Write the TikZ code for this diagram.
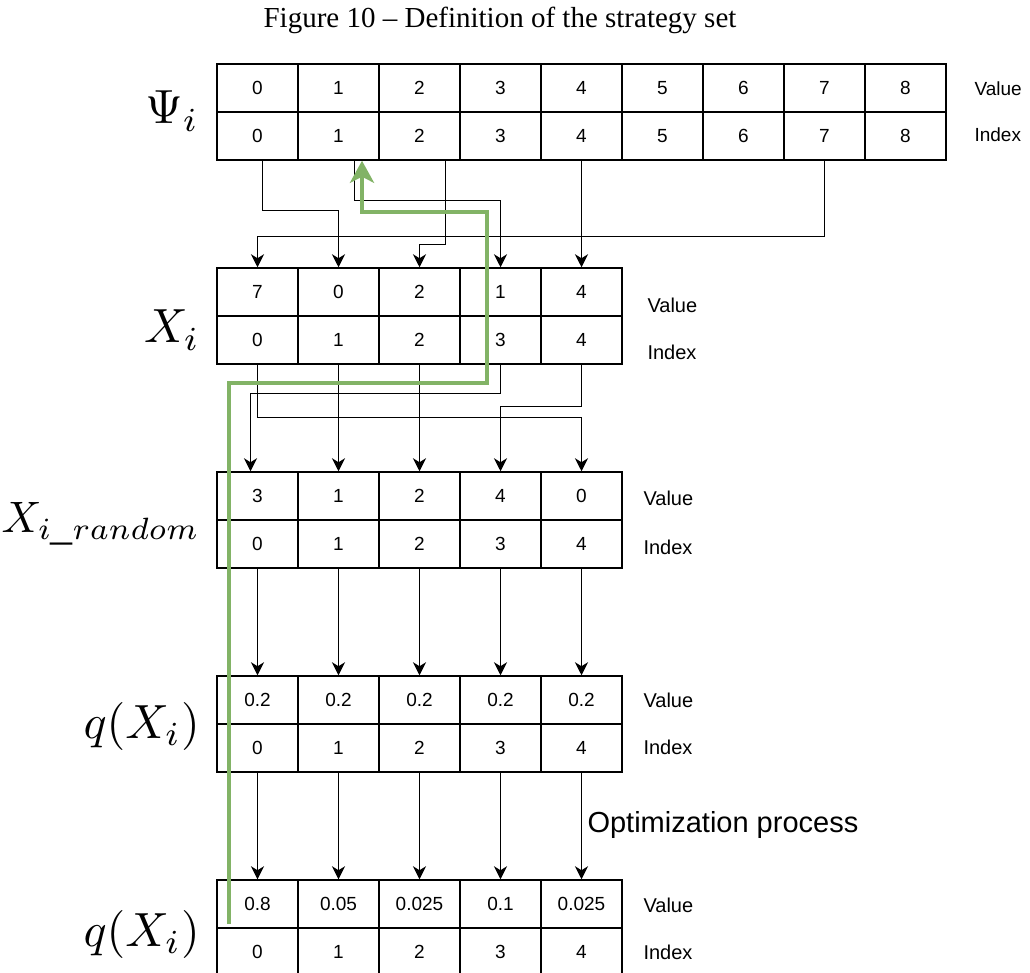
\documentclass[tikz,border=0pt]{standalone}
\usepackage{graphicx}
\usepackage{fontspec}
\setmainfont{Liberation Serif}
\setsansfont{Liberation Sans}
\usetikzlibrary{arrows.meta, calc}
\definecolor{pathgreen}{RGB}{130, 179, 102}
\newcommand{\setmath}[2][4.8]{\scalebox{#1}{$#2$}}

\begin{document}
\begin{tikzpicture}[
  x=1pt, y=-1pt,
  cell/.style={rectangle, draw=black, line width=1.5pt, minimum width=81pt,
              minimum height=48pt, inner sep=0pt,
              font=\sffamily\fontsize{19}{19}\selectfont},
  rowtag/.style={anchor=west, font=\sffamily\fontsize{20}{20}\selectfont},
  settag/.style={anchor=east, inner sep=1pt},
  arrow/.style={-{Stealth[length=13pt, width=13pt, inset=4pt]}, line width=1.3pt},
  greenarrow/.style={-{Stealth[length=22pt, width=24pt, inset=6pt]},
              line width=4pt, draw=pathgreen},
]
  \useasboundingbox (0,0) rectangle (1030,972);

  % Title
  \node[font=\fontsize{29}{29}\selectfont] (title) at (500,20)
    {Figure 10 -- Definition of the strategy set};

  % Psi_i
  \foreach \k in {0,...,8} {
    \node[cell] (psiv\k) at (257.5+81*\k,88) {\k};
    \node[cell] (psii\k) at (257.5+81*\k,136) {\k};
  }
  \node[settag] (psitag) at (200,111) {\setmath{\Psi_i}};
  \node[rowtag, font=\sffamily\fontsize{19}{19}\selectfont] (psival) at (971,89) {Value};
  \node[rowtag, font=\sffamily\fontsize{19}{19}\selectfont] (psiidx) at (971,135) {Index};

  % X_i
  \foreach \v [count=\k from 0] in {7,0,2,1,4} {
    \node[cell] (xv\k) at (257.5+81*\k,292) {\v};
    \node[cell] (xi\k) at (257.5+81*\k,340) {\k};
  }
  \node[settag] (xtag) at (201,330) {\setmath{X_i}};
  \node[rowtag] (xval) at (644,305) {Value};
  \node[rowtag] (xidx) at (644,352) {Index};

  % X_i random
  \foreach \v [count=\k from 0] in {3,1,2,4,0} {
    \node[cell] (rv\k) at (257.5+81*\k,496) {\v};
    \node[cell] (ri\k) at (257.5+81*\k,544) {\k};
  }
  \node[settag] (rtag) at (201,524) {\setmath[4.4]{X_{i\_random}}};
  \node[rowtag] (rval) at (640,498) {Value};
  \node[rowtag] (ridx) at (640,547) {Index};

  % q(X_i) before
  \foreach \k in {0,...,4} {
    \node[cell] (qv\k) at (257.5+81*\k,700) {0.2};
    \node[cell] (qi\k) at (257.5+81*\k,748) {\k};
  }
  \node[settag] (qtag) at (201,726) {\setmath{q(X_i)}};
  \node[rowtag] (qval) at (640,700) {Value};
  \node[rowtag] (qidx) at (640,747) {Index};

  % q(X_i) after
  \foreach \v [count=\k from 0] in {0.8,0.05,0.025,0.1,0.025} {
    \node[cell] (ov\k) at (257.5+81*\k,904) {\v};
    \node[cell] (oi\k) at (257.5+81*\k,952) {\k};
  }
  \node[settag] (otag) at (201,934) {\setmath{q(X_i)}};
  \node[rowtag] (oval) at (640,905) {Value};
  \node[rowtag] (oidx) at (640,952) {Index};

  % Psi_i -> X_i
  \draw[arrow] ($(psii0.south)+(5,0)$) -- ++(0,50) -| (xv1.north);
  \draw[arrow] ($(psii1.south)+(16,0)$) -- ++(0,40) -| (xv3.north);
  \draw[arrow] ($(psii2.south)+(26,0)$) -- ++(0,84) -| (xv2.north);
  \draw[arrow] (psii4.south) -- (xv4.north);
  \draw[arrow] (psii7.south) -- ++(0,76) -| (xv0.north);

  % X_i -> X_i random
  \draw[arrow] (xi0.south) -- ++(0,53) -| (rv4.north);
  \draw[arrow] (xi1.south) -- (rv1.north);
  \draw[arrow] (xi2.south) -- (rv2.north);
  \draw[arrow] (xi3.south) -- ++(0,29) -| ($(rv0.north)+(-7,0)$);
  \draw[arrow] (xi4.south) -- ++(0,42) -| (rv3.north);

  % X_i random -> q(X_i) -> q(X_i)
  \foreach \k in {0,...,4} {
    \draw[arrow] (ri\k.south) -- (qv\k.north);
    \draw[arrow] (qi\k.south) -- (ov\k.north);
  }
  \node[anchor=west, font=\sffamily\fontsize{29}{29}\selectfont] (optlbl)
    at (584,825) {Optimization process};

  % back to Psi_i
  \coordinate (gstart) at (229,924);
  \coordinate (gturn) at (487,383);
  \coordinate (gtop) at (362,212);
  \draw[greenarrow] (gstart) |- (gturn) |- (gtop) -- (gtop |- psii1.south);
\end{tikzpicture}
\end{document}
